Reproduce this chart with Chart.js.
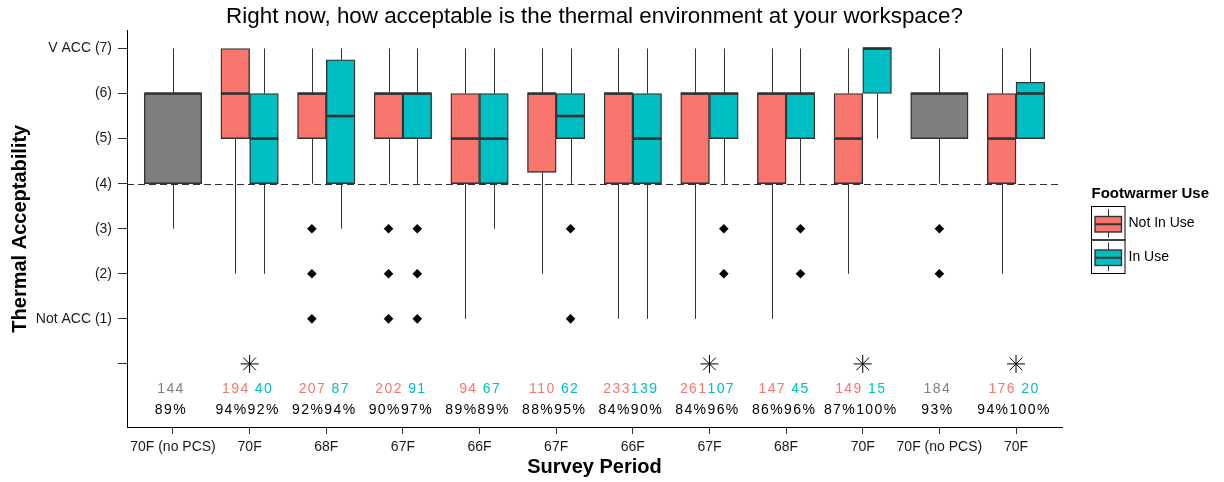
<!DOCTYPE html>
<html>
<head>
<meta charset="utf-8">
<script src="https://cdn.jsdelivr.net/npm/chart.js@4.4.1/dist/chart.umd.min.js"></script>
<style>
  html, body { margin: 0; padding: 0; background: #ffffff; }
  #wrap { width: 1224px; height: 482px; }
</style>
</head>
<body>
<div id="wrap"><canvas id="c" width="1224" height="482"></canvas></div>
<script>
// ---------------- data ----------------
const categories = ['70F (no PCS)', '70F', '68F', '67F', '66F', '67F', '66F', '67F', '68F', '70F', '70F (no PCS)', '70F'];

const yTickValues = [0, 1, 2, 3, 4, 5, 6, 7];
const yTickLabels = ['', 'Not ACC (1)', '(2)', '(3)', '(4)', '(5)', '(6)', 'V ACC (7)'];

// Not In Use (footwarmer off)
const notInUseLow  = [null, 2, 4, 4, 1, 2,    1, 1, 1, 2, null, 2];
const notInUseQ1   = [null, 5, 5, 5, 4, 4.25, 4, 4, 4, 4, null, 4];
const notInUseMed  = [null, 6, 6, 6, 5, 6,    6, 6, 6, 5, null, 5];
const notInUseQ3   = [null, 7, 6, 6, 6, 6,    6, 6, 6, 6, null, 6];
const notInUseHigh = [null, 7, 7, 7, 7, 7,    7, 7, 7, 7, null, 7];
const notInUseOut  = [[], [], [3, 2, 1], [3, 2, 1], [], [], [], [], [], [], [], []];

// In Use (footwarmer on)
const inUseLow  = [null, 2, 3,    4, 3, 4,   1, 4, 4, 5, null, 5];
const inUseQ1   = [null, 4, 4,    5, 4, 5,   4, 5, 5, 6, null, 5];
const inUseMed  = [null, 5, 5.5,  6, 5, 5.5, 5, 6, 6, 7, null, 6];
const inUseQ3   = [null, 6, 6.75, 6, 6, 6,   6, 6, 6, 7, null, 6.25];
const inUseHigh = [null, 7, 7,    7, 7, 7,   7, 7, 7, 7, null, 7];
const inUseOut  = [[], [], [], [3, 2, 1], [], [3, 1], [], [3, 2], [3, 2], [], [], []];

// No PCS periods (single grey box)
const noPcsLow  = [3, null, null, null, null, null, null, null, null, null, 4, null];
const noPcsQ1   = [4, null, null, null, null, null, null, null, null, null, 5, null];
const noPcsMed  = [6, null, null, null, null, null, null, null, null, null, 6, null];
const noPcsQ3   = [6, null, null, null, null, null, null, null, null, null, 6, null];
const noPcsHigh = [7, null, null, null, null, null, null, null, null, null, 7, null];
const noPcsOut  = [[], [], [], [], [], [], [], [], [], [], [3, 2], []];

// sample sizes and % acceptable
const nNotInUse   = [null, 194, 207, 202, 94, 110, 233, 261, 147, 149, null, 176];
const nInUse      = [null, 40, 87, 91, 67, 62, 139, 107, 45, 15, null, 20];
const nNoPcs      = [144, null, null, null, null, null, null, null, null, null, 184, null];
const pctNotInUse = [null, 94, 92, 90, 89, 88, 84, 84, 86, 87, null, 94];
const pctInUse    = [null, 92, 94, 97, 89, 95, 90, 96, 96, 100, null, 100];
const pctNoPcs    = [89, null, null, null, null, null, null, null, null, null, 93, null];

// periods with a significant difference (asterisk)
const significantPeriods = [1, 7, 9, 11];

const acceptThreshold = 4;

// ---------------- styling / layout ----------------
const RED = '#F8766D', TEAL = '#00BFC4', GREY = '#7F7F7F', EDGE = '#333333';
const FONT = "'Liberation Sans', Arial, Helvetica, sans-serif";
const DODGE = 0.1875;
const HALF_THICK = 28.7, FULL_THICK = 57.4;
const STAR_ROW = 0, COUNT_ROW = -0.55, PCT_ROW = -1.03;

Chart.defaults.font.family = FONT;
Chart.defaults.color = '#1a1a1a';

const series = [
  { label: 'Not In Use', color: RED,  off: -DODGE, thick: HALF_THICK, low: notInUseLow, q1: notInUseQ1, med: notInUseMed, q3: notInUseQ3, high: notInUseHigh, out: notInUseOut },
  { label: 'In Use',     color: TEAL, off:  DODGE, thick: HALF_THICK, low: inUseLow,    q1: inUseQ1,    med: inUseMed,    q3: inUseQ3,    high: inUseHigh,    out: inUseOut },
  { label: 'No PCS',     color: GREY, off:  0,     thick: FULL_THICK, low: noPcsLow,    q1: noPcsQ1,    med: noPcsMed,    q3: noPcsQ3,    high: noPcsHigh,    out: noPcsOut }
];

const datasets = [];
series.forEach(s => {
  datasets.push({
    type: 'bar',
    label: s.label,
    data: s.q1.map((v, i) => v == null ? null : { x: i + s.off, y: [v, s.q3[i]] }).filter(Boolean),
    backgroundColor: s.color,
    borderColor: EDGE,
    borderWidth: 1.4,
    borderSkipped: false,
    barThickness: s.thick,
    grouped: false,
    order: 3
  });
});
series.forEach(s => {
  const pts = [];
  s.out.forEach((list, i) => list.forEach(v => pts.push({ x: i + s.off, y: v })));
  datasets.push({
    type: 'scatter',
    label: s.label + ' outliers',
    data: pts,
    pointStyle: 'rectRot',
    pointRadius: 4.8,
    backgroundColor: '#000',
    borderColor: '#000',
    borderWidth: 0,
    order: 1
  });
});
datasets.push({
  type: 'scatter',
  label: 'significant',
  data: significantPeriods.map(i => ({ x: i, y: STAR_ROW })),
  pointStyle: 'star',
  pointRadius: 9,
  borderColor: '#000',
  backgroundColor: '#000',
  borderWidth: 1,
  order: 1
});

function pad3(n) { return String(n).padStart(3, ' '); }

const boxPlugin = {
  id: 'boxExtras',
  beforeDatasetsDraw(chart) {
    const { ctx, chartArea, scales: { x, y } } = chart;
    ctx.save();
    // dashed threshold line
    const ty = Math.round(y.getPixelForValue(acceptThreshold)) + 0.5;
    ctx.strokeStyle = EDGE;
    ctx.lineWidth = 1;
    ctx.setLineDash([7, 4]);
    ctx.beginPath();
    ctx.moveTo(chartArea.left, ty);
    ctx.lineTo(chartArea.right, ty);
    ctx.stroke();
    ctx.setLineDash([]);
    // whiskers
    series.forEach(s => {
      s.low.forEach((lo, i) => {
        if (lo == null) return;
        const px = Math.round(x.getPixelForValue(i + s.off)) + 0.5;
        ctx.beginPath();
        ctx.moveTo(px, y.getPixelForValue(lo));
        ctx.lineTo(px, y.getPixelForValue(s.q1[i]));
        ctx.moveTo(px, y.getPixelForValue(s.q3[i]));
        ctx.lineTo(px, y.getPixelForValue(s.high[i]));
        ctx.stroke();
      });
    });
    ctx.restore();
  },
  afterDatasetsDraw(chart) {
    const { ctx, scales: { x, y } } = chart;
    ctx.save();
    // medians
    ctx.strokeStyle = EDGE;
    ctx.lineWidth = 2.6;
    series.forEach(s => {
      s.med.forEach((m, i) => {
        if (m == null) return;
        const cx = x.getPixelForValue(i + s.off);
        const py = y.getPixelForValue(m);
        ctx.beginPath();
        ctx.moveTo(cx - s.thick / 2, py);
        ctx.lineTo(cx + s.thick / 2, py);
        ctx.stroke();
      });
    });
    // counts and percentages
    ctx.font = '14px ' + FONT;
    ctx.textBaseline = 'middle';
    ctx.textAlign = 'left';
    ctx.letterSpacing = '1.4px';
    const drawParts = (cx, cy, parts) => {
      const w = parts.map(p => ctx.measureText(p.t).width);
      let xx = cx - w.reduce((a, b) => a + b, 0) / 2;
      parts.forEach((p, k) => { ctx.fillStyle = p.c; ctx.fillText(p.t, xx, cy); xx += w[k]; });
    };
    categories.forEach((c, i) => {
      const cx = x.getPixelForValue(i) - 2;
      const cy1 = y.getPixelForValue(COUNT_ROW);
      const cy2 = y.getPixelForValue(PCT_ROW);
      if (nNoPcs[i] != null) {
        drawParts(cx, cy1, [{ t: String(nNoPcs[i]), c: GREY }]);
        drawParts(cx, cy2, [{ t: pctNoPcs[i] + '%', c: '#000' }]);
      } else {
        drawParts(cx, cy1, [{ t: pad3(nNotInUse[i]), c: RED }, { t: pad3(nInUse[i]), c: TEAL }]);
        drawParts(cx, cy2, [{ t: pctNotInUse[i] + '%', c: '#000' }, { t: pctInUse[i] + '%', c: '#000' }]);
      }
    });
    ctx.restore();
  },
  afterDraw(chart) {
    const { ctx, chartArea } = chart;
    ctx.save();
    const lx = chartArea.right + 29.5;
    const titleY = 194;
    ctx.fillStyle = '#000';
    ctx.font = 'bold 15px ' + FONT;
    ctx.textBaseline = 'middle';
    ctx.textAlign = 'left';
    ctx.fillText('Footwarmer Use', lx, titleY);
    const keys = [{ t: 'Not In Use', c: RED }, { t: 'In Use', c: TEAL }];
    const kw = 33.5, kh = 33.5, top0 = 206.5;
    keys.forEach((k, j) => {
      const top = top0 + j * kh;
      ctx.strokeStyle = '#000';
      ctx.lineWidth = 1;
      ctx.strokeRect(lx, top, kw, kh);
      const cx = Math.round(lx + kw / 2) + 0.5;
      ctx.strokeStyle = EDGE;
      ctx.beginPath();
      ctx.moveTo(cx, top + 2.5); ctx.lineTo(cx, top + kh - 2.5);
      ctx.stroke();
      ctx.fillStyle = k.c;
      ctx.lineWidth = 1.4;
      ctx.fillRect(lx + 3.5, top + 10, kw - 7, 15.5);
      ctx.strokeRect(lx + 3.5, top + 10, kw - 7, 15.5);
      ctx.lineWidth = 2;
      ctx.beginPath();
      ctx.moveTo(lx + 3.5, top + 17.75); ctx.lineTo(lx + kw - 3.5, top + 17.75);
      ctx.stroke();
      ctx.fillStyle = '#000';
      ctx.font = '14px ' + FONT;
      ctx.fillText(k.t, lx + 37, top + kh / 2);
    });
    ctx.restore();
  }
};

new Chart(document.getElementById('c'), {
  type: 'bar',
  data: { datasets },
  options: {
    responsive: false,
    devicePixelRatio: 1,
    animation: false,
    events: [],
    layout: { padding: { top: 0, right: 162, bottom: 0, left: 0 } },
    plugins: {
      legend: { display: false },
      tooltip: { enabled: false },
      title: {
        display: true,
        fullSize: false,
        text: 'Right now, how acceptable is the thermal environment at your workspace?',
        color: '#000',
        font: { size: 22.4, weight: 'normal', family: FONT, lineHeight: 1.18 },
        padding: { top: 3.5, bottom: 0.5 }
      }
    },
    scales: {
      x: {
        type: 'linear',
        min: -0.6,
        max: 11.6,
        offset: false,
        afterBuildTicks: (s) => { s.ticks = categories.map((c, i) => ({ value: i })); },
        afterFit: (s) => { s.height = 55; },
        ticks: {
          autoSkip: false,
          maxRotation: 0,
          padding: 5,
          color: '#1a1a1a',
          font: { size: 14 },
          callback: (v) => categories[v]
        },
        grid: { display: true, offset: false, drawOnChartArea: false, drawTicks: true, tickLength: 7, tickColor: '#333', tickWidth: 1 },
        border: { display: true, color: '#000', width: 1 },
        title: { display: true, text: 'Survey Period', color: '#000', font: { size: 20, weight: 'bold' }, padding: { top: 0, bottom: 3 } }
      },
      y: {
        type: 'linear',
        min: -1.4,
        max: 7.4,
        afterBuildTicks: (s) => { s.ticks = yTickValues.map(v => ({ value: v })); },
        afterFit: (s) => { s.width = 127; },
        ticks: {
          autoSkip: false,
          padding: 6,
          color: '#1a1a1a',
          font: { size: 14 },
          callback: (v) => yTickLabels[yTickValues.indexOf(v)]
        },
        grid: { display: true, drawOnChartArea: false, drawTicks: true, tickLength: 9, tickColor: '#333', tickWidth: 1 },
        border: { display: true, color: '#000', width: 1 },
        title: { display: true, text: 'Thermal Acceptability', color: '#000', font: { size: 20, weight: 'bold' }, padding: { top: 8.5, bottom: 0 } }
      }
    }
  },
  plugins: [boxPlugin]
});
</script>
</body>
</html>
